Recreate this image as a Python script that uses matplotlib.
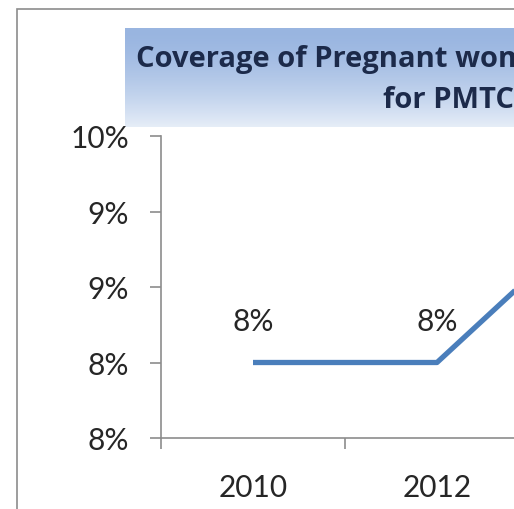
import matplotlib.pyplot as plt
import matplotlib.ticker as mticker
from matplotlib.patches import Rectangle
import numpy as np

# data
years = ['2010', '2012', '2014']
coverage = [0.084, 0.084, 0.093]
y_ticks = [0.080, 0.084, 0.088, 0.092, 0.096]
title_lines = ['Coverage of Pregnant women receiving ARVs', 'for PMTCT']

W, H = 514, 510
plt.rcParams['font.family'] = ['Lato', 'DejaVu Sans']

fig = plt.figure(figsize=(W / 100, H / 100), dpi=100)
fig.patch.set_facecolor('white')

def fx(px):
    return px / W

def fy(py):
    return 1 - py / H

# outer chart border (runs off the right and bottom)
fig.patches.append(Rectangle((fx(17), fy(560)), fx(600), 550 / H,
                             transform=fig.transFigure, fill=False,
                             edgecolor='#8c8c8c', linewidth=1.2))

# title box with a vertical blue gradient
tax = fig.add_axes([fx(125), fy(128), fx(420), (128 - 29) / H])
top = np.array([0.60, 0.71, 0.88])
bot = np.array([0.90, 0.93, 0.97])
t = np.linspace(0, 1, 100)[:, None]
grad = (top * (1 - t ** 1.6) + bot * t ** 1.6)[:, None, :]
tax.imshow(grad, aspect='auto', extent=[0, 1, 0, 1])
tax.set_axis_off()
title_font = dict(fontsize=21, fontweight='bold', color='#1c2a4a',
                  family=['Open Sans', 'DejaVu Sans'])
fig.text(fx(136), fy(60), title_lines[0], ha='left', va='center', **title_font)
fig.text(fx(383), fy(100), title_lines[1], ha='left', va='center', **title_font)

# plot area
cat_w = 184
ax = fig.add_axes([fx(161), fy(439), fx(3 * cat_w), (439 - 137) / H])
x = np.arange(len(years))
ax.plot(x, coverage, color='#4a7ebb', linewidth=3.8, solid_capstyle='butt')
for xi, v in zip(x, coverage):
    ax.annotate(f'{v:.0%}', (xi, v), xytext=(0, 30), textcoords='offset points',
                ha='center', va='center', fontsize=21.5, color='#262626')

ax.set_xlim(-0.5, len(years) - 0.5)
ax.set_ylim(y_ticks[0], y_ticks[-1])
ax.set_yticks(y_ticks)
ax.yaxis.set_major_formatter(mticker.FuncFormatter(lambda v, p: f'{v:.0%}'))
ax.set_xticks(x)
ax.set_xticklabels(years)
ax.set_xticks(np.arange(-0.5, len(years)), minor=True)
ax.tick_params(axis='x', which='major', length=0, pad=25, labelsize=21.5, labelcolor='#262626')
ax.tick_params(axis='x', which='minor', length=8, width=1.2, color='#8c8c8c')
ax.tick_params(axis='y', length=8, width=1.2, color='#8c8c8c', pad=15,
               labelsize=21.5, labelcolor='#262626')
for side in ['top', 'right']:
    ax.spines[side].set_visible(False)
for side in ['left', 'bottom']:
    ax.spines[side].set_color('#8c8c8c')
    ax.spines[side].set_linewidth(1.2)
ax.patch.set_alpha(0)

fig.savefig('out.png', dpi=100)
